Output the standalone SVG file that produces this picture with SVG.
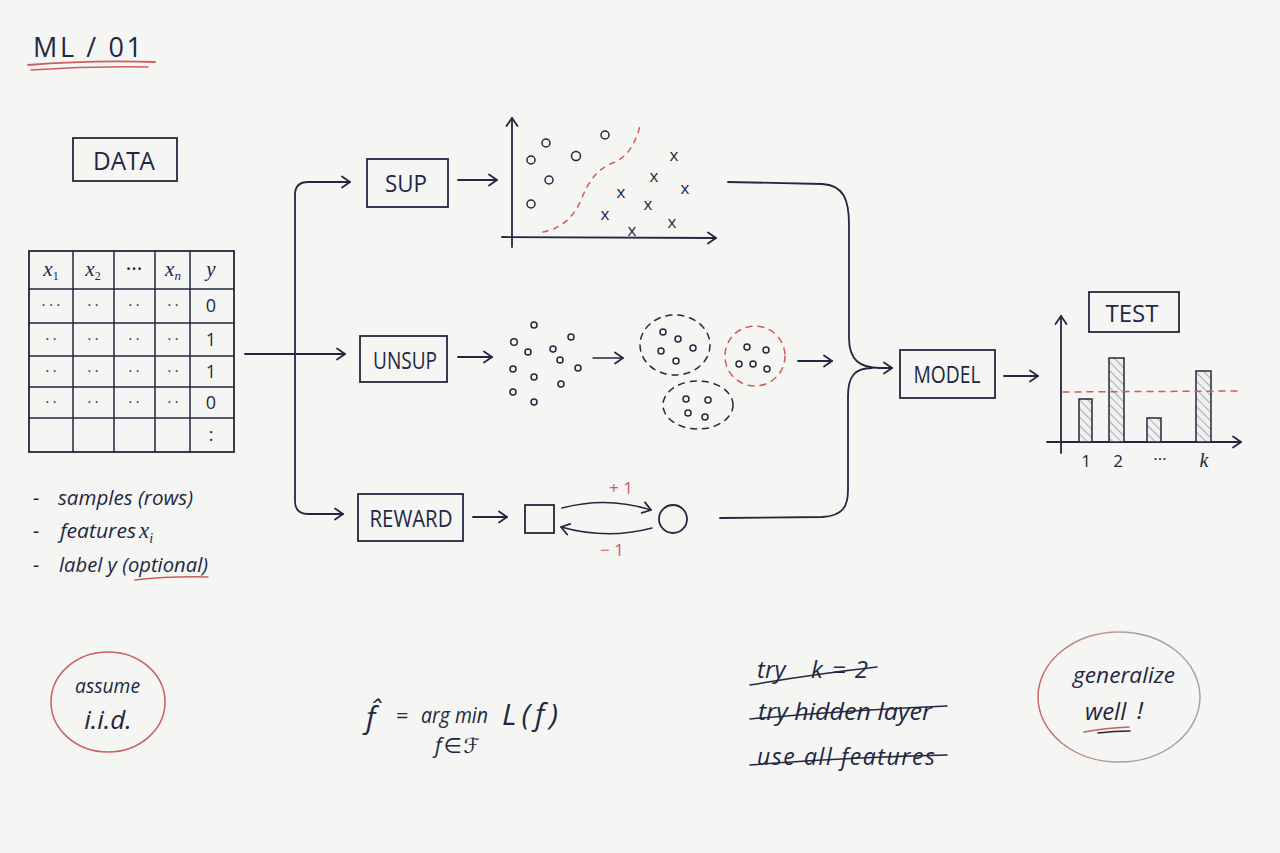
<svg xmlns="http://www.w3.org/2000/svg" width="1280" height="853" viewBox="0 0 1280 853">
<defs>
<style>
.ink{stroke:#22283f;fill:none;stroke-width:1.8;stroke-linecap:round;stroke-linejoin:round}
.thin{stroke-width:1.5}
.red{stroke:#c9605e}
.dash{stroke-dasharray:6 6}
.box{stroke:#22283f;fill:none;stroke-width:1.8}
.t{fill:#22283f;font-family:"Open Sans","DejaVu Sans",sans-serif}
.cap{text-anchor:middle}
.hand{font-style:italic}
.math{font-family:"Liberation Serif","DejaVu Serif",serif;font-style:italic}
.rt{fill:#c9605e;font-family:"Open Sans",sans-serif}
.dot{fill:none;stroke:#22283f;stroke-width:1.5}
</style>
<marker id="arr" markerWidth="14" markerHeight="14" refX="11" refY="7" orient="auto" markerUnits="userSpaceOnUse">
<path d="M3,1.5 L11,7 L3,12.5" fill="none" stroke="#22283f" stroke-width="1.8" stroke-linecap="round" stroke-linejoin="round"/>
</marker>
<pattern id="hatch" width="6" height="6" patternUnits="userSpaceOnUse" patternTransform="rotate(-45)">
<rect width="6" height="6" fill="#f0f0ee"/>
<line x1="0" y1="0" x2="0" y2="6" stroke="#7a7c86" stroke-width="1.2"/>
</pattern>
<linearGradient id="gw" x1="0" y1="0" x2="1" y2="0">
<stop offset="0" stop-color="#c9605e"/>
<stop offset="0.35" stop-color="#b89a9a"/>
<stop offset="1" stop-color="#a0a0a0"/>
</linearGradient>
</defs>
<rect width="1280" height="853" fill="#f5f5f3"/>

<g id="title">
<text class="t" x="33" y="57" font-size="27" textLength="109" lengthAdjust="spacing">ML / 01</text>
<path class="ink red" d="M28,65 Q90,60 155,62"/>
<path class="ink red thin" d="M31,70 Q90,66 148,67"/>
</g>

<g id="data">
<rect class="box" x="73" y="138" width="104" height="43"/>
<text class="t cap" x="124" y="170" font-size="25" textLength="62" lengthAdjust="spacingAndGlyphs">DATA</text>
</g>

<g id="table">
<rect class="box" x="29" y="251" width="205" height="201"/>
<g class="ink thin">
<line x1="29" y1="289" x2="234" y2="289"/>
<line x1="29" y1="323" x2="234" y2="323"/>
<line x1="29" y1="356" x2="234" y2="356"/>
<line x1="29" y1="387" x2="234" y2="387"/>
<line x1="29" y1="418" x2="234" y2="418"/>
<line x1="73" y1="251" x2="73" y2="452"/>
<line x1="114" y1="251" x2="114" y2="452"/>
<line x1="155" y1="251" x2="155" y2="452"/>
<line x1="190" y1="251" x2="190" y2="452"/>
</g>
<g class="t" font-size="21" text-anchor="middle">
<text class="math" x="51" y="276">x<tspan font-size="12" dy="4" font-style="normal">1</tspan></text>
<text class="math" x="93" y="276">x<tspan font-size="12" dy="4" font-style="normal">2</tspan></text>
<text x="134" y="276">···</text>
<text class="math" x="173" y="276">x<tspan font-size="13" dy="4" font-style="italic">n</tspan></text>
<text class="math" x="211" y="276">y</text>
</g>
<g class="t" font-size="14" text-anchor="middle">
<text x="51" y="310">· · ·</text><text x="93" y="310">· ·</text><text x="134" y="310">· ·</text><text x="173" y="310">· ·</text>
<text x="51" y="344">· ·</text><text x="93" y="344">· ·</text><text x="134" y="344">· ·</text><text x="173" y="344">· ·</text>
<text x="51" y="376">· ·</text><text x="93" y="376">· ·</text><text x="134" y="376">· ·</text><text x="173" y="376">· ·</text>
<text x="51" y="407">· ·</text><text x="93" y="407">· ·</text><text x="134" y="407">· ·</text><text x="173" y="407">· ·</text>
</g>
<g class="t" font-size="18" text-anchor="middle">
<text x="211" y="312">0</text>
<text x="211" y="346">1</text>
<text x="211" y="378">1</text>
<text x="211" y="409">0</text>
<text x="211" y="441">:</text>
</g>
</g>

<g id="notes">
<g class="t hand" font-size="20">
<text x="33" y="505">-</text><text x="58" y="505" textLength="135" lengthAdjust="spacingAndGlyphs">samples (rows)</text>
<text x="33" y="538">-</text><text x="60" y="538" textLength="76" lengthAdjust="spacingAndGlyphs">features</text>
<text class="math" x="139" y="538" font-size="23">x<tspan font-size="14" dy="5">i</tspan></text>
<text x="33" y="572">-</text><text x="59" y="572" textLength="149" lengthAdjust="spacingAndGlyphs">label y (optional)</text>
</g>
<path class="ink red thin" d="M135,580 Q170,576 208,577"/>
</g>

<g id="sup">
<rect class="box" x="367" y="159" width="81" height="48"/>
<text class="t cap" x="406" y="192" font-size="23" textLength="42" lengthAdjust="spacingAndGlyphs">SUP</text>
</g>
<g id="unsup">
<rect class="box" x="360" y="336" width="87" height="46"/>
<text class="t cap" x="405" y="369" font-size="23" textLength="64" lengthAdjust="spacingAndGlyphs">UNSUP</text>
</g>
<g id="reward">
<rect class="box" x="358" y="494" width="105" height="47"/>
<text class="t cap" x="411" y="527" font-size="23" textLength="83" lengthAdjust="spacingAndGlyphs">REWARD</text>
</g>

<g id="scatter">
<line class="ink" x1="512" y1="247" x2="512" y2="118" marker-end="url(#arr)"/>
<line class="ink" x1="502" y1="237" x2="716" y2="238" marker-end="url(#arr)"/>
<g class="dot">
<circle cx="546" cy="143" r="4"/><circle cx="531" cy="160" r="4"/><circle cx="576" cy="156" r="4.5"/>
<circle cx="605" cy="135" r="4"/><circle cx="549" cy="180" r="4"/><circle cx="531" cy="204" r="4"/>
</g>
<g class="t" font-size="17" text-anchor="middle">
<text x="674" y="161">x</text><text x="654" y="182">x</text><text x="685" y="194">x</text><text x="621" y="198">x</text>
<text x="648" y="210">x</text><text x="605" y="220">x</text><text x="672" y="228">x</text><text x="632" y="236">x</text>
</g>
<path class="ink red thin" stroke-dasharray="5 6" d="M543,232 C563,228 574,216 581,200 C589,180 598,168 615,162 C630,155 636,140 640,126"/>
</g>

<g id="clusters">
<g class="dot">
<circle cx="534" cy="325" r="3"/><circle cx="514" cy="342" r="3.3"/><circle cx="528" cy="352" r="3"/>
<circle cx="571" cy="337" r="3"/><circle cx="553" cy="349" r="3"/><circle cx="560" cy="360" r="3"/>
<circle cx="513" cy="369" r="3"/><circle cx="534" cy="377" r="3"/><circle cx="578" cy="368" r="3"/>
<circle cx="561" cy="384" r="3"/><circle cx="513" cy="392" r="3"/><circle cx="534" cy="402" r="3"/>
</g>
<line class="ink thin" x1="593" y1="358" x2="623" y2="358" marker-end="url(#arr)"/>
<ellipse class="ink thin dash" cx="675" cy="345" rx="35" ry="30"/>
<ellipse class="ink thin red dash" cx="755" cy="356" rx="30" ry="30"/>
<ellipse class="ink thin dash" cx="698" cy="405" rx="35" ry="24"/>
<g class="dot">
<circle cx="663" cy="332" r="3"/><circle cx="678" cy="339" r="3"/><circle cx="661" cy="351" r="3"/><circle cx="693" cy="348" r="3"/><circle cx="676" cy="361" r="3"/>
<circle cx="747" cy="347" r="3"/><circle cx="766" cy="350" r="3"/><circle cx="739" cy="364" r="3"/><circle cx="753" cy="364" r="3"/><circle cx="767" cy="369" r="3"/>
<circle cx="686" cy="399" r="3"/><circle cx="708" cy="400" r="3"/><circle cx="688" cy="413" r="3"/><circle cx="705" cy="417" r="3"/>
</g>
</g>

<g id="rl">
<rect class="box" x="525" y="505" width="29" height="28"/>
<circle class="ink" cx="673" cy="519" r="14"/>
<path class="ink thin" d="M562,508 Q607,496 651,510" marker-end="url(#arr)"/>
<path class="ink thin" d="M652,528 Q607,540 561,527" marker-end="url(#arr)"/>
<text class="rt" x="621" y="494" font-size="17" text-anchor="middle">+ 1</text>
<text class="rt" x="612" y="556" font-size="17" text-anchor="middle">− 1</text>
</g>

<g id="model">
<rect class="box" x="900" y="350" width="95" height="48"/>
<text class="t cap" x="947" y="383" font-size="23" textLength="67" lengthAdjust="spacingAndGlyphs">MODEL</text>
</g>

<g id="test">
<rect class="box" x="1089" y="292" width="90" height="40"/>
<text class="t cap" x="1132" y="322" font-size="23" textLength="53" lengthAdjust="spacingAndGlyphs">TEST</text>
<line class="ink" x1="1061" y1="453" x2="1061" y2="316" marker-end="url(#arr)"/>
<line class="ink" x1="1047" y1="442" x2="1241" y2="442" marker-end="url(#arr)"/>
<g stroke="#22283f" stroke-width="1.5" fill="url(#hatch)">
<rect x="1079" y="399" width="13" height="43"/>
<rect x="1109" y="358" width="15" height="84"/>
<rect x="1147" y="418" width="14" height="24"/>
<rect x="1196" y="371" width="15" height="71"/>
</g>
<line class="ink thin red" stroke-dasharray="6 6" x1="1063" y1="392" x2="1237" y2="391"/>
<g class="t" font-size="17" text-anchor="middle">
<text x="1086" y="467">1</text><text x="1118" y="467">2</text><text x="1160" y="465">···</text><text class="math" x="1204" y="467" font-size="20">k</text>
</g>
</g>

<g id="connectors">
<line class="ink" x1="245" y1="354" x2="345" y2="354" marker-end="url(#arr)"/>
<path class="ink" d="M295,354 L295,195 Q295,182 308,182 L350,182" marker-end="url(#arr)"/>
<path class="ink" d="M295,354 L295,501 Q295,514 308,514 L343,514" marker-end="url(#arr)"/>
<line class="ink" x1="458" y1="180" x2="497" y2="180" marker-end="url(#arr)"/>
<line class="ink" x1="458" y1="357" x2="492" y2="357" marker-end="url(#arr)"/>
<line class="ink" x1="473" y1="517" x2="507" y2="517" marker-end="url(#arr)"/>
<line class="ink" x1="798" y1="361" x2="832" y2="361" marker-end="url(#arr)"/>
<path class="ink" d="M728,182 L822,184 C844,185 849,200 849,225 L849,338 C849,360 860,368 880,368 L892,368" marker-end="url(#arr)"/>
<path class="ink" d="M720,518 L822,517 C844,516 848,505 848,490 L848,396 C848,376 855,368 872,368"/>
<line class="ink" x1="1004" y1="376" x2="1038" y2="376" marker-end="url(#arr)"/>
</g>

<g id="assume">
<ellipse cx="108" cy="702" rx="57" ry="50" fill="none" stroke="#c9605e" stroke-width="1.5"/>
<text class="t hand" x="75" y="693" font-size="20" textLength="65" lengthAdjust="spacingAndGlyphs">assume</text>
<text class="t hand" x="108" y="729" font-size="26" text-anchor="middle">i.i.d.</text>
</g>

<g id="formula">
<text class="t hand" x="366" y="728" font-size="30">f̂</text>
<text class="t" x="396" y="723" font-size="22">=</text>
<text class="t hand" x="421" y="723" font-size="22" textLength="67" lengthAdjust="spacingAndGlyphs">arg min</text>
<text class="t hand" x="502" y="725" font-size="30" textLength="56" lengthAdjust="spacing">L(f)</text>
<text class="t hand" x="435" y="753" font-size="21" textLength="45" lengthAdjust="spacing">f∈ℱ</text>
</g>

<g id="crossed">
<text class="t hand" x="757" y="678" font-size="24">try</text>
<text class="t hand" x="811" y="678" font-size="24" textLength="57" lengthAdjust="spacing">k = 2</text>
<text class="t hand" x="758" y="720" font-size="23" textLength="174" lengthAdjust="spacingAndGlyphs">try hidden layer</text>
<text class="t hand" x="757" y="765" font-size="23" textLength="178" lengthAdjust="spacing">use all features</text>
<path class="ink thin" d="M750,685 Q815,674 877,667"/>
<path class="ink thin" d="M750,719 Q850,710 947,706"/>
<path class="ink thin" d="M750,765 Q850,757 947,755"/>
</g>

<g id="generalize">
<ellipse cx="1119" cy="697" rx="81" ry="65" fill="none" stroke="url(#gw)" stroke-width="1.4"/>
<text class="t hand" x="1073" y="683" font-size="22" textLength="102" lengthAdjust="spacingAndGlyphs">generalize</text>
<text class="t hand" x="1085" y="720" font-size="24">well</text>
<text class="t hand" x="1137" y="719" font-size="24">!</text>
<path class="ink red thin" d="M1084,732 Q1105,728 1129,727"/>
<path class="ink thin" stroke="#9a9a9a" d="M1098,733 Q1115,731 1130,731"/>
</g>
</svg>
